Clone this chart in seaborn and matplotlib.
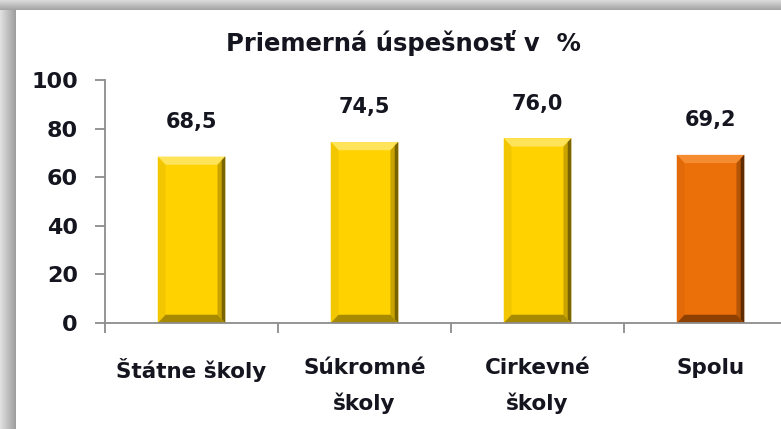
import numpy as np
import pandas as pd
import matplotlib
matplotlib.use("Agg")
import matplotlib.pyplot as plt
from matplotlib.patches import Polygon
import seaborn as sns

# ---- data ----
categories = ["Štátne školy", "Súkromné\nškoly", "Cirkevné\nškoly", "Spolu"]
values = [68.5, 74.5, 76.0, 69.2]
value_labels = ["68,5", "74,5", "76,0", "69,2"]
title = "Priemerná úspešnosť v  %"
yticks = [0, 20, 40, 60, 80, 100]

main_colors = ["#FFD200", "#FFD200", "#FFD200", "#EC700A"]
shade = {
    "#FFD200": dict(top="#FFE45A", left="#F2C600", right="#7A6400", right_in="#C9A400", bottom="#A88A00"),
    "#EC700A": dict(top="#F68C30", left="#E26A08", right="#5E2A00", right_in="#B45406", bottom="#8E4000"),
}

sns.set_theme(style="white")
plt.rcParams["font.family"] = ["DejaVu Sans"]

W, H = 781, 429
fig = plt.figure(figsize=(W / 100, H / 100), dpi=100)
fig.patch.set_facecolor("white")

# gray frame bands (top and left)
ax_top = fig.add_axes([0, 1 - 10 / H, 1, 10 / H])
ax_top.imshow(np.linspace(0.86, 0.64, 20).reshape(-1, 1), cmap="gray", vmin=0, vmax=1,
              aspect="auto", extent=[0, 1, 0, 1])
ax_top.axis("off")
ax_left = fig.add_axes([0, 0, 16 / W, 1 - 10 / H])
ax_left.imshow(np.linspace(0.88, 0.62, 20).reshape(1, -1), cmap="gray", vmin=0, vmax=1,
               aspect="auto", extent=[0, 1, 0, 1])
ax_left.axis("off")

left_px, right_px = 105, 797
y0_px, y100_px = 323, 80
ax = fig.add_axes([left_px / W, (H - y0_px) / H, (right_px - left_px) / W, (y0_px - y100_px) / H])

df = pd.DataFrame({"cat": categories, "val": values})
sns.barplot(data=df, x="cat", y="val", hue="cat", palette=main_colors, width=0.39,
            legend=False, ax=ax, saturation=1, linewidth=0)

ax.set_xlim(-0.5, len(categories) - 0.5)
ax.set_ylim(0, 100)
ax.set_yticks(yticks)
ax.set_xlabel("")
ax.set_ylabel("")

# bevel effect derived from bar geometry
bx, by = 0.045, 3.4
for p, c in zip(ax.patches, main_colors):
    x, y, w, h = p.get_x(), p.get_y(), p.get_width(), p.get_height()
    s = shade[c]
    x1, x2, y1, y2 = x, x + w, y, y + h
    polys = [
        ([(x1, y2), (x2, y2), (x2 - bx, y2 - by), (x1 + bx, y2 - by)], s["top"]),
        ([(x1, y1), (x1, y2), (x1 + bx, y2 - by), (x1 + bx, y1 + by)], s["left"]),
        ([(x2, y1), (x2, y2), (x2 - bx, y2 - by), (x2 - bx, y1 + by)], s["right_in"]),
        ([(x2, y1), (x2, y2), (x2 - bx * 0.45, y2 - by * 0.45), (x2 - bx * 0.45, y1 + by * 0.45)], s["right"]),
        ([(x1, y1), (x2, y1), (x2 - bx, y1 + by), (x1 + bx, y1 + by)], s["bottom"]),
    ]
    for pts, col in polys:
        ax.add_patch(Polygon(pts, closed=True, facecolor=col, edgecolor="none", zorder=p.get_zorder() + 0.1))

for i, (v, lab) in enumerate(zip(values, value_labels)):
    ax.annotate(lab, (i, v), xytext=(0, 25), textcoords="offset points", ha="center", va="center",
                fontsize=15, fontweight="bold", color="#151520")

sns.despine(ax=ax, top=True, right=True)
for sp in ("left", "bottom"):
    ax.spines[sp].set_color("#8c8c8c")
    ax.spines[sp].set_linewidth(1.3)

ax.set_xticks(np.arange(len(categories)))
ax.set_xticklabels(categories, fontsize=15.5, fontweight="bold", color="#151520", linespacing=1.85)
ax.set_xticks(np.arange(-0.5, len(categories), 1), minor=True)
ax.tick_params(axis="x", which="major", length=0, pad=25)
ax.tick_params(axis="x", which="minor", length=7.5, width=1.3, color="#8c8c8c", direction="out", bottom=True)
ax.tick_params(axis="y", length=7.5, width=1.3, color="#8c8c8c", direction="out", left=True, pad=12,
               labelsize=16)
for t in ax.get_yticklabels():
    t.set_fontweight("bold")
    t.set_color("#151520")
for t in ax.get_xticklabels():
    t.set_verticalalignment("top")

fig.text(403 / W, 1 - 43 / H, title, ha="center", va="center", fontsize=17.5, fontweight="bold",
         color="#151520")

fig.savefig("out.png", dpi=100, facecolor="white")
